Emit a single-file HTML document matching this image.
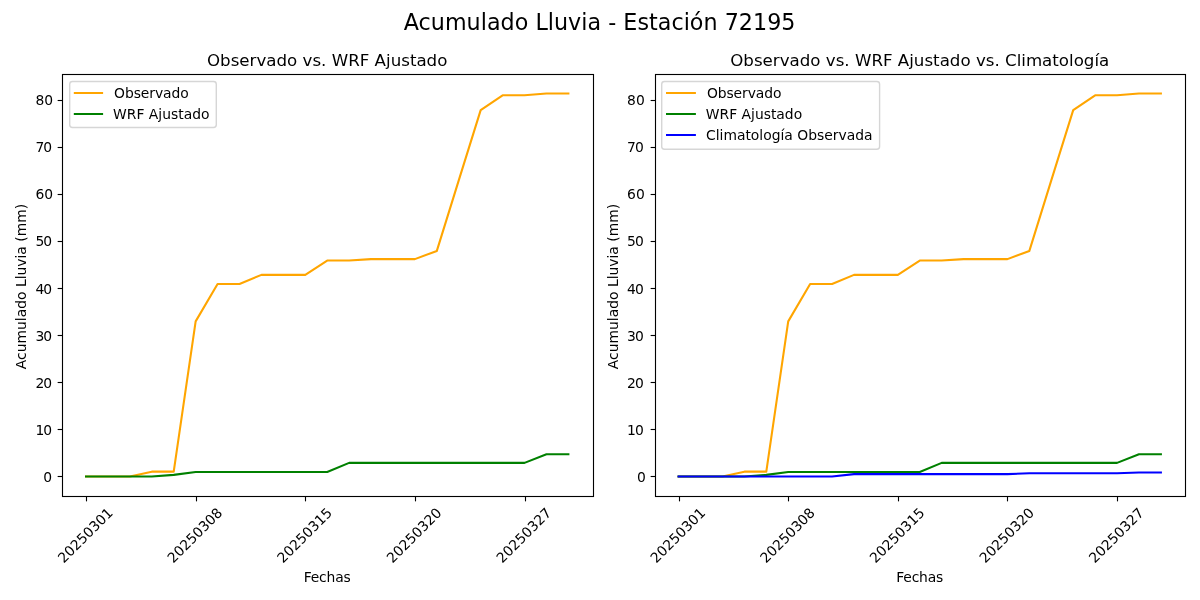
<!DOCTYPE html>
<html lang="es"><head><meta charset="utf-8"><title>Acumulado Lluvia - Estación 72195</title>
<style>
html,body{margin:0;padding:0;background:#fff;overflow:hidden}
svg{display:block;font-family:"DejaVu Sans","Liberation Sans",sans-serif;fill:#000}
.t10,.t10 text{font-size:13.889px}
.t12{font-size:16.667px}
.t16{font-size:22.222px}
.tk path{stroke:#000;stroke-width:1.111;fill:none}
.sp{fill:none;stroke:#000;stroke-width:1.111;stroke-linejoin:miter;stroke-linecap:square}
.ln polyline{fill:none;stroke-width:2.083;stroke-linejoin:round;stroke-linecap:square}
.ll{fill:none;stroke-width:2;stroke-linecap:butt}
</style></head><body>
<svg width="1200" height="600" viewBox="0 0 1200 600">
<rect x="0" y="0" width="1200" height="600" fill="#ffffff"/>
<g class="axes">
<g class="tk">
<path d="M86.5 496.5 v4.86"/>
<path d="M196.5 496.5 v4.86"/>
<path d="M305.5 496.5 v4.86"/>
<path d="M415.5 496.5 v4.86"/>
<path d="M525.5 496.5 v4.86"/>
<path d="M62.5 476.5 h-4.86"/>
<path d="M62.5 429.5 h-4.86"/>
<path d="M62.5 382.5 h-4.86"/>
<path d="M62.5 335.5 h-4.86"/>
<path d="M62.5 288.5 h-4.86"/>
<path d="M62.5 241.5 h-4.86"/>
<path d="M62.5 194.5 h-4.86"/>
<path d="M62.5 147.5 h-4.86"/>
<path d="M62.5 100.5 h-4.86"/>
</g>
<g class="t10">
<text transform="translate(63.72 563.7) rotate(-45)">20250301</text>
<text transform="translate(173.35 563.7) rotate(-45)">20250308</text>
<text transform="translate(282.97 563.7) rotate(-45)">20250315</text>
<text transform="translate(392.6 563.7) rotate(-45)">20250320</text>
<text transform="translate(502.23 563.7) rotate(-45)">20250327</text>
<text text-anchor="end" x="52.18" y="481.9">0</text>
<text text-anchor="end" x="52.18" y="434.9">1<tspan dx="-0.9">0</tspan></text>
<text text-anchor="end" x="52.18" y="387.9">2<tspan dx="-0.9">0</tspan></text>
<text text-anchor="end" x="52.18" y="340.9">3<tspan dx="-0.9">0</tspan></text>
<text text-anchor="end" x="52.18" y="293.9">4<tspan dx="-0.9">0</tspan></text>
<text text-anchor="end" x="52.18" y="245.9">5<tspan dx="-0.9">0</tspan></text>
<text text-anchor="end" x="53.08" y="198.9">60</text>
<text text-anchor="end" x="52.18" y="151.9">7<tspan dx="-0.9">0</tspan></text>
<text text-anchor="end" x="53.08" y="104.9">80</text>
<text text-anchor="middle" textLength="47" x="327.2" y="581.8">Fechas</text>
<text text-anchor="middle" transform="translate(25.5 286.5) rotate(-90)">Acumulado Lluvia (mm)</text>
</g>
<g class="ln">
<polyline stroke="#ffa500" points="86.02,476.5 107.94,476.5 129.87,476.5 151.8,471.66 173.72,471.66 195.65,321.4 217.57,284.03 239.5,284.03 261.42,274.87 283.35,274.87 305.27,274.87 327.2,260.53 349.13,260.53 371.05,259.12 392.98,259.12 414.9,259.12 436.83,250.9 458.75,180.4 480.68,110.13 502.6,95.33 524.53,95.33 546.46,93.45 568.38,93.45"/>
<polyline stroke="#008000" points="86.02,476.5 107.94,476.5 129.87,476.5 151.8,476.5 173.72,474.9 195.65,471.99 217.57,471.99 239.5,471.99 261.42,471.99 283.35,471.99 305.27,471.99 327.2,471.99 349.13,462.87 371.05,462.87 392.98,462.87 414.9,462.87 436.83,462.87 458.75,462.87 480.68,462.87 502.6,462.87 524.53,462.87 546.46,454.18 568.38,454.18"/>
</g>
<rect class="sp" x="62.5" y="74.5" width="531" height="422"/>
<text class="t12" text-anchor="middle" x="327.2" y="65.75">Observado vs. WRF Ajustado</text>
<g class="lg">
<rect x="69.7" y="81.5" width="146.6" height="46" rx="2.78" ry="2.78" fill="#ffffff" fill-opacity="0.8" stroke="#cccccc" stroke-opacity="0.8" stroke-width="1.39"/>
<path class="ll" stroke="#ffa500" d="M73.8 93 H103.1"/>
<text class="t10" textLength="74.6" x="114.1" y="97.55">Observado</text>
<path class="ll" stroke="#008000" d="M73.8 114 H103.1"/>
<text class="t10" x="113.1" y="118.55">WRF Ajustado</text>
</g>
</g>
<g class="axes">
<g class="tk">
<path d="M679.5 496.5 v4.86"/>
<path d="M788.5 496.5 v4.86"/>
<path d="M898.5 496.5 v4.86"/>
<path d="M1007.5 496.5 v4.86"/>
<path d="M1117.5 496.5 v4.86"/>
<path d="M655.5 476.5 h-4.86"/>
<path d="M655.5 429.5 h-4.86"/>
<path d="M655.5 382.5 h-4.86"/>
<path d="M655.5 335.5 h-4.86"/>
<path d="M655.5 288.5 h-4.86"/>
<path d="M655.5 241.5 h-4.86"/>
<path d="M655.5 194.5 h-4.86"/>
<path d="M655.5 147.5 h-4.86"/>
<path d="M655.5 100.5 h-4.86"/>
</g>
<g class="t10">
<text transform="translate(656.31 563.7) rotate(-45)">20250301</text>
<text transform="translate(765.92 563.7) rotate(-45)">20250308</text>
<text transform="translate(875.53 563.7) rotate(-45)">20250315</text>
<text transform="translate(985.14 563.7) rotate(-45)">20250320</text>
<text transform="translate(1094.74 563.7) rotate(-45)">20250327</text>
<text text-anchor="end" x="645.88" y="481.9">0</text>
<text text-anchor="end" x="643.78" y="434.9">1<tspan dx="-0.9">0</tspan></text>
<text text-anchor="end" x="643.78" y="387.9">2<tspan dx="-0.9">0</tspan></text>
<text text-anchor="end" x="643.78" y="340.9">3<tspan dx="-0.9">0</tspan></text>
<text text-anchor="end" x="643.78" y="293.9">4<tspan dx="-0.9">0</tspan></text>
<text text-anchor="end" x="643.78" y="245.9">5<tspan dx="-0.9">0</tspan></text>
<text text-anchor="end" x="644.78" y="198.9">60</text>
<text text-anchor="end" x="643.78" y="151.9">7<tspan dx="-0.9">0</tspan></text>
<text text-anchor="end" x="644.78" y="104.9">80</text>
<text text-anchor="middle" textLength="47" x="919.75" y="581.8">Fechas</text>
<text text-anchor="middle" transform="translate(618.1 286.5) rotate(-90)">Acumulado Lluvia (mm)</text>
</g>
<g class="ln">
<polyline stroke="#ffa500" points="678.61,476.5 700.54,476.5 722.46,476.5 744.38,471.66 766.3,471.66 788.22,321.4 810.14,284.03 832.06,284.03 853.99,274.87 875.91,274.87 897.83,274.87 919.75,260.53 941.67,260.53 963.59,259.12 985.51,259.12 1007.44,259.12 1029.36,250.9 1051.28,180.4 1073.2,110.13 1095.12,95.33 1117.04,95.33 1138.96,93.45 1160.89,93.45"/>
<polyline stroke="#008000" points="678.61,476.5 700.54,476.5 722.46,476.5 744.38,476.5 766.3,474.9 788.22,471.99 810.14,471.99 832.06,471.99 853.99,471.99 875.91,471.99 897.83,471.99 919.75,471.99 941.67,462.87 963.59,462.87 985.51,462.87 1007.44,462.87 1029.36,462.87 1051.28,462.87 1073.2,462.87 1095.12,462.87 1117.04,462.87 1138.96,454.18 1160.89,454.18"/>
<polyline stroke="#0000ff" points="678.61,476.5 700.54,476.5 722.46,476.5 744.38,476.5 766.3,476.5 788.22,476.5 810.14,476.5 832.06,476.5 853.99,474.15 875.91,474.15 897.83,474.15 919.75,474.15 941.67,474.15 963.59,474.15 985.51,474.15 1007.44,474.15 1029.36,473.21 1051.28,473.21 1073.2,473.21 1095.12,473.21 1117.04,473.21 1138.96,472.5 1160.89,472.5"/>
</g>
<rect class="sp" x="655.5" y="74.5" width="530" height="422"/>
<text class="t12" text-anchor="middle" x="919.75" y="65.75">Observado vs. WRF Ajustado vs. Climatología</text>
<g class="lg">
<rect x="661.7" y="81.5" width="217.9" height="67.7" rx="2.78" ry="2.78" fill="#ffffff" fill-opacity="0.8" stroke="#cccccc" stroke-opacity="0.8" stroke-width="1.39"/>
<path class="ll" stroke="#ffa500" d="M666 93 H695.9"/>
<text class="t10" textLength="74.6" x="706.9" y="97.55">Observado</text>
<path class="ll" stroke="#008000" d="M666 114 H695.9"/>
<text class="t10" x="705.8" y="118.55">WRF Ajustado</text>
<path class="ll" stroke="#0000ff" d="M666 135 H695.9"/>
<text class="t10" x="706" y="139.55">Climatología Observada</text>
</g>
</g>
<text class="t16" text-anchor="middle" textLength="391.66" x="599.6" y="30.1">Acumulado Lluvia - Estación 72195</text>
</svg>
</body></html>
